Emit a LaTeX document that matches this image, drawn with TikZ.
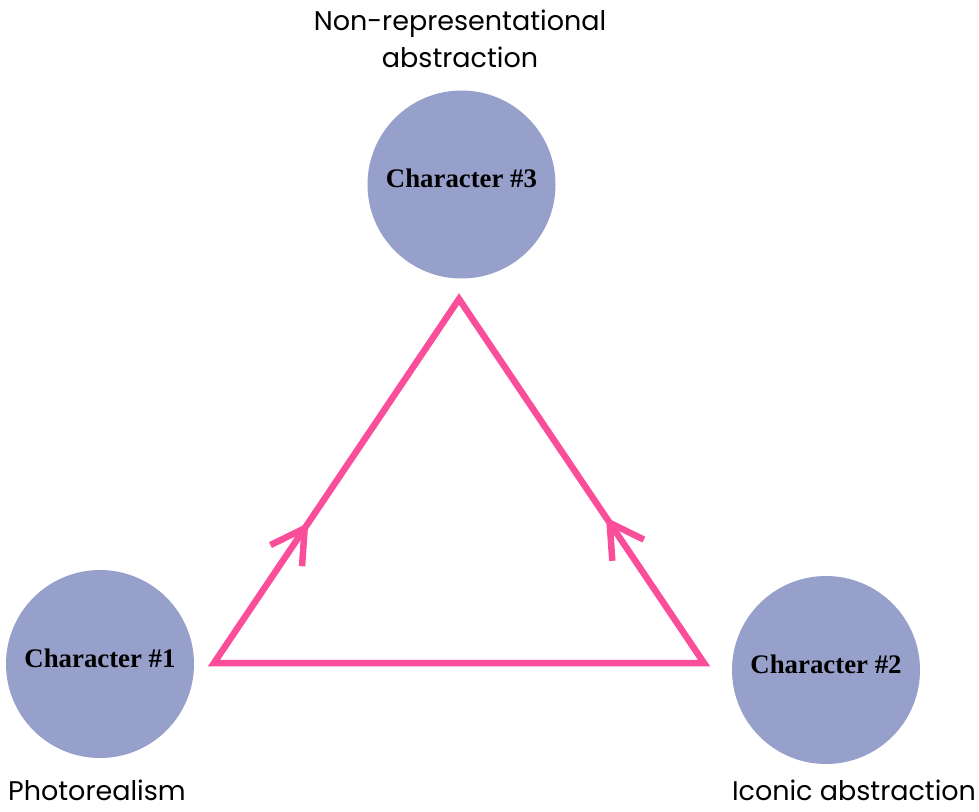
\documentclass[tikz,border=0pt]{standalone}
\usepackage{fontspec}
\setmainfont{Liberation Serif}
\newfontfamily\labfont{Poppins}
\usetikzlibrary{arrows.meta,decorations.markings}
\definecolor{circfill}{RGB}{151,160,202}
\definecolor{tripink}{RGB}{250,77,154}
\tikzset{
  charc/.style={circle,fill=circfill,minimum size=188pt,inner sep=0pt},
  chart/.style={font=\fontsize{26.8}{30}\selectfont\bfseries,inner sep=0pt},
  lab/.style={font=\labfont\fontsize{27}{37}\selectfont,inner sep=0pt,anchor=base,align=center},
  tri/.style={draw=tripink,line width=6.5pt,line join=miter},
  midarrow/.style={postaction={decorate},decoration={markings,
     mark=at position #1 with {\arrow[tripink,line width=6.5pt]{Straight Barb[length=33pt,width=38pt]}}}}
}
\begin{document}
\begin{tikzpicture}[x=1pt,y=-1pt]
\useasboundingbox (0,0) rectangle (979,811);
% circles
\node[charc] (c1) at (100,664) {};
\node[charc] (c2) at (826,670) {};
\node[charc] (c3) at (461.5,184.5) {};
\node[chart] (t1) at ([yshift=6pt]c1.center) {Character \#1};
\node[chart] (t2) at ([yshift=6pt]c2.center) {Character \#2};
\node[chart] (t3) at ([yshift=6pt]c3.center) {Character \#3};
% labels
\node[lab] (l3a) at (460,30) {Non-representational};
\node[lab] (l3b) at (460,67) {abstraction};
\node[lab] (l1) at (97,800) {Photorealism};
\node[lab] (l2) at (854,800) {Iconic abstraction};
% triangle
\coordinate (A) at (214,663);
\coordinate (B) at (704,663);
\coordinate (C) at (459,299);
\draw[tri] (A) -- (C) -- (B) -- cycle;
\path[midarrow=0.385] (A) -- (C);
\path[midarrow=0.40] (B) -- (C);
\end{tikzpicture}
\end{document}
